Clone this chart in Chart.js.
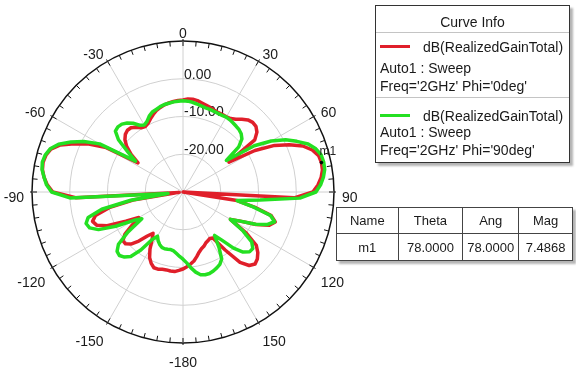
<!DOCTYPE html>
<html>
<head>
<meta charset="utf-8">
<title>Radiation pattern</title>
<script src="https://cdn.jsdelivr.net/npm/chart.js@4.4.1/dist/chart.umd.min.js"></script>
<style>
  body { margin: 0; background: #fff; font-family: Arial, "Liberation Sans", sans-serif; color: #1a1a1a; }
  #wrap { position: relative; width: 576px; height: 377px; overflow: hidden; }
  #wrap canvas { position: absolute; left: 0; top: 0; }
  .box { position: absolute; background: #fff; border: 1px solid #333; box-shadow: 3px 3px 2px #b4b4b4; }
  .t { position: absolute; line-height: 16px; white-space: nowrap; font-size: 14px; }
  .sep { position: absolute; left: 0; right: 0; height: 1px; background: #c4c4c4; }
  .swatch { position: absolute; left: 4px; width: 30px; height: 3px; }
  #markers table { border-collapse: collapse; width: 237px; font-size: 13px; }
  #markers td { border: 1px solid #444; text-align: center; padding: 0; }
</style>
</head>
<body>
<div id="wrap">
  <canvas id="chart" width="576" height="377"></canvas>

  <div class="box" id="curveInfo" style="left:375px; top:5px; width:193px; height:156px;">
    <div class="t" style="left:0; right:0; top:8px; text-align:center;">Curve Info</div>
    <div class="sep" style="top:26px;"></div>
    <div class="swatch" id="sw0" style="top:39px;"></div>
    <div class="t" id="name0" style="left:47px; top:33px;"></div>
    <div class="t" id="sweep0" style="left:4px; top:54px;"></div>
    <div class="t" id="cond0" style="left:4px; top:72px;"></div>
    <div class="sep" style="top:91px;"></div>
    <div class="swatch" id="sw1" style="top:108px;"></div>
    <div class="t" id="name1" style="left:47px; top:102px;"></div>
    <div class="t" id="sweep1" style="left:4px; top:118px;"></div>
    <div class="t" id="cond1" style="left:4px; top:136px;"></div>
  </div>

  <div class="box" id="markers" style="left:336px; top:207px; border:none;">
    <table>
      <colgroup><col style="width:62px"><col style="width:65px"><col style="width:56px"><col style="width:54px"></colgroup>
      <tr id="mHead" style="height:26px;"></tr>
      <tr id="mRow" style="height:27px;"></tr>
    </table>
  </div>
</div>

<script>
// sampled theta (deg), 0..357 in 3 deg steps; >180 is shown as negative theta
const thetaDeg = Array.from({ length: 120 }, (_, i) => i * 3);
const thetaLabels = thetaDeg.map(a => (a < 180 ? a : a - 360));

// dB(RealizedGainTotal), Freq=2GHz, Phi=0deg
const gainPhi0 = [
  -5.6, -5.3, -5.3, -5.5, -5.9, -6.2, -6.5, -6.8, -7.0, -7.0,
  -7.0, -6.8, -6.2, -5.2, -4.3, -3.9, -4.0, -4.8, -6.5, -15.5,
  -8.0, -2.8, 0.8, 4.0, 6.0, 7.2, 7.49, 7.4, 6.8, 5.8,
  4.4, -0.5, -30, -15.5, -10.5, -5.8, -4.3, -5.5, -8.8, -13.0,
  -15.5, -10.0, -6.0, -4.5, -3.5, -3.0, -3.8, -6.0, -11.0, -15.5,
  -15.8, -15.5, -15.2, -14.6, -14.2, -13.5, -12.5, -11.5, -10.8, -10.2,
  -9.6, -9.2, -8.8, -8.8, -8.9, -8.8, -8.5, -8.5, -9.3, -10.5,
  -12.5, -15.0, -16.5, -15.0, -12.5, -10.5, -9.5, -9.5, -11.0, -14.0,
  -16.5, -13.0, -8.0, -5.5, -4.8, -6.0, -10.0, -17.0, -29.0, -1.5,
  4.5, 6.0, 7.0, 7.7, 7.9, 7.6, 6.8, 4.8, 1.5, -2.0,
  -6.5, -15.8, -13.0, -10.8, -9.3, -8.4, -8.0, -8.1, -8.8, -9.7,
  -10.0, -9.6, -8.8, -8.0, -7.3, -6.8, -6.4, -6.1, -5.9, -5.7
];

// dB(RealizedGainTotal), Freq=2GHz, Phi=90deg
const gainPhi90 = [
  -5.8, -5.9, -6.1, -6.4, -6.7, -6.9, -7.0, -7.1, -7.2, -7.2,
  -7.1, -7.2, -7.4, -7.6, -7.8, -8.2, -9.0, -11.0, -15.8, -7.5,
  -3.0, 0.5, 3.0, 5.5, 7.0, 7.9, 8.1, 8.0, 7.4, 6.5,
  5.2, 1.0, -9.5, -15.5, -11.0, -6.0, -4.5, -6.0, -9.0, -13.0,
  -15.5, -11.0, -7.5, -6.2, -6.3, -7.5, -10.0, -13.5, -15.8, -12.5,
  -9.5, -8.5, -8.0, -7.6, -7.3, -7.3, -7.6, -8.5, -9.8, -11.2,
  -12.2, -12.9, -13.6, -14.2, -14.4, -14.3, -14.2, -14.3, -14.8, -15.5,
  -16.5, -15.0, -11.0, -8.0, -6.8, -6.2, -6.5, -8.0, -12.0, -17.0,
  -15.0, -10.0, -5.5, -3.5, -3.0, -4.0, -8.0, -16.0, -26.0, 0.0,
  4.8, 6.2, 7.0, 7.8, 8.1, 7.8, 7.0, 5.3, 2.5, -0.5,
  -4.5, -15.0, -12.0, -8.0, -5.9, -5.6, -5.8, -6.5, -7.5, -8.9,
  -9.5, -9.0, -8.0, -7.3, -7.0, -6.6, -6.3, -6.2, -6.0, -5.9
];

const ringValues = [0, -10, -20];
const axisAngles = [0, 30, 60, 90, 120, 150, 180, 210, 240, 270, 300, 330];
const axisLabels = ['0', '30', '60', '90', '120', '150', '-180', '-150', '-120', '-90', '-60', '-30'];

const curveNames = ['dB(RealizedGainTotal)', 'dB(RealizedGainTotal)'];
const curveSweeps = ['Auto1 : Sweep', 'Auto1 : Sweep'];
const curveConds = ["Freq='2GHz' Phi='0deg'", "Freq='2GHz' Phi='90deg'"];
const curveColors = ['#e01f2a', '#24e022'];

const markerHead = ['Name', 'Theta', 'Ang', 'Mag'];
const markerRow = ['m1', '78.0000', '78.0000', '7.4868'];
const markerTheta = 78;

// legend + marker table
curveNames.forEach((n, i) => {
  document.getElementById('sw' + i).style.background = curveColors[i];
  document.getElementById('name' + i).textContent = n;
  document.getElementById('sweep' + i).textContent = curveSweeps[i];
  document.getElementById('cond' + i).textContent = curveConds[i];
});
document.getElementById('mHead').innerHTML = markerHead.map(h => '<td>' + h + '</td>').join('');
document.getElementById('mRow').innerHTML = markerRow.map(h => '<td>' + h + '</td>').join('');

const FONT = 'Arial, "Liberation Sans", sans-serif';

// rim ticks, angle labels, ring labels and the m1 marker
const polarDecor = {
  id: 'polarDecor',
  beforeDatasetsDraw(chart) {
    const s = chart.scales.r, ctx = chart.ctx;
    ctx.save();
    ctx.font = '14px ' + FONT;
    ctx.fillStyle = '#1a1a1a';
    ctx.textAlign = 'left';
    ctx.textBaseline = 'middle';
    ringValues.forEach(v => {
      const d = s.getDistanceFromCenterForValue(v);
      ctx.fillText(v.toFixed(2), s.xCenter + 1, s.yCenter - d - 4);
    });
    ctx.restore();
  },
  afterDraw(chart) {
    const s = chart.scales.r, ctx = chart.ctx;
    const cx = s.xCenter, cy = s.yCenter, R = s.drawingArea;
    ctx.save();
    ctx.strokeStyle = '#111';
    ctx.lineWidth = 1;
    for (let a = 0; a < 360; a += 5) {
      const t = a * Math.PI / 180;
      const sn = Math.sin(t), cs = Math.cos(t);
      const inner = R - 5, outer = a % 30 === 0 ? R + 2 : R;
      ctx.beginPath();
      ctx.moveTo(cx + inner * sn, cy - inner * cs);
      ctx.lineTo(cx + outer * sn, cy - outer * cs);
      ctx.stroke();
    }

    // angle labels: anchored just outside the rim, aligned away from the circle
    ctx.font = '14px ' + FONT;
    ctx.fillStyle = '#1a1a1a';
    ctx.textAlign = 'center';
    ctx.textBaseline = 'middle';
    axisAngles.forEach((a, i) => {
      const t = a * Math.PI / 180;
      const sn = Math.sin(t), cs = Math.cos(t);
      const w = ctx.measureText(axisLabels[i]).width;
      const ax = cx + (R + 8) * sn, ay = cy - (R + 8) * cs;
      const x = Math.abs(sn) < 0.01 ? ax : ax + Math.sign(sn) * w / 2;
      let y;
      if (Math.abs(cs) < 0.01) y = ay + 6;
      else if (cs > 0) y = ay + 1;
      else y = ay + 12;
      ctx.fillText(axisLabels[i], x, y);
    });

    const meta = chart.getDatasetMeta(0);
    const p = meta.data[thetaDeg.indexOf(markerTheta)];
    ctx.fillStyle = '#000';
    ctx.beginPath();
    ctx.arc(p.x, p.y, 1.8, 0, Math.PI * 2);
    ctx.fill();
    ctx.font = '12px ' + FONT;
    ctx.textAlign = 'left';
    ctx.fillStyle = '#222';
    ctx.fillText('m1', p.x - 2, p.y - 11);
    ctx.restore();
  }
};

new Chart(document.getElementById('chart'), {
  type: 'radar',
  data: {
    labels: thetaLabels,
    datasets: [
      {
        label: curveConds[0], data: gainPhi0, borderColor: curveColors[0],
        borderWidth: 3.5, pointRadius: 0, fill: false, order: 1,
        borderJoinStyle: 'round', borderCapStyle: 'round'
      },
      {
        label: curveConds[1], data: gainPhi90, borderColor: curveColors[1],
        borderWidth: 3.5, pointRadius: 0, fill: false, order: 0,
        borderJoinStyle: 'round', borderCapStyle: 'round'
      }
    ]
  },
  options: {
    responsive: false,
    animation: false,
    devicePixelRatio: 1,
    layout: { padding: { left: 32, top: 41, right: 242, bottom: 34 } },
    plugins: { legend: { display: false }, tooltip: { enabled: false } },
    scales: {
      r: {
        min: -30, max: 10,
        startAngle: 0,
        ticks: { display: false, stepSize: 10 },
        grid: {
          circular: true,
          color: c => (c.tick && c.tick.value === 10 ? '#111' : '#d0d0d0'),
          lineWidth: c => (c.tick && c.tick.value === 10 ? 1.5 : 1)
        },
        angleLines: { color: '#d0d0d0', lineWidth: c => (c.index % 10 === 0 ? 1 : 0) },
        pointLabels: { display: false }
      }
    }
  },
  plugins: [polarDecor]
});
</script>
</body>
</html>
